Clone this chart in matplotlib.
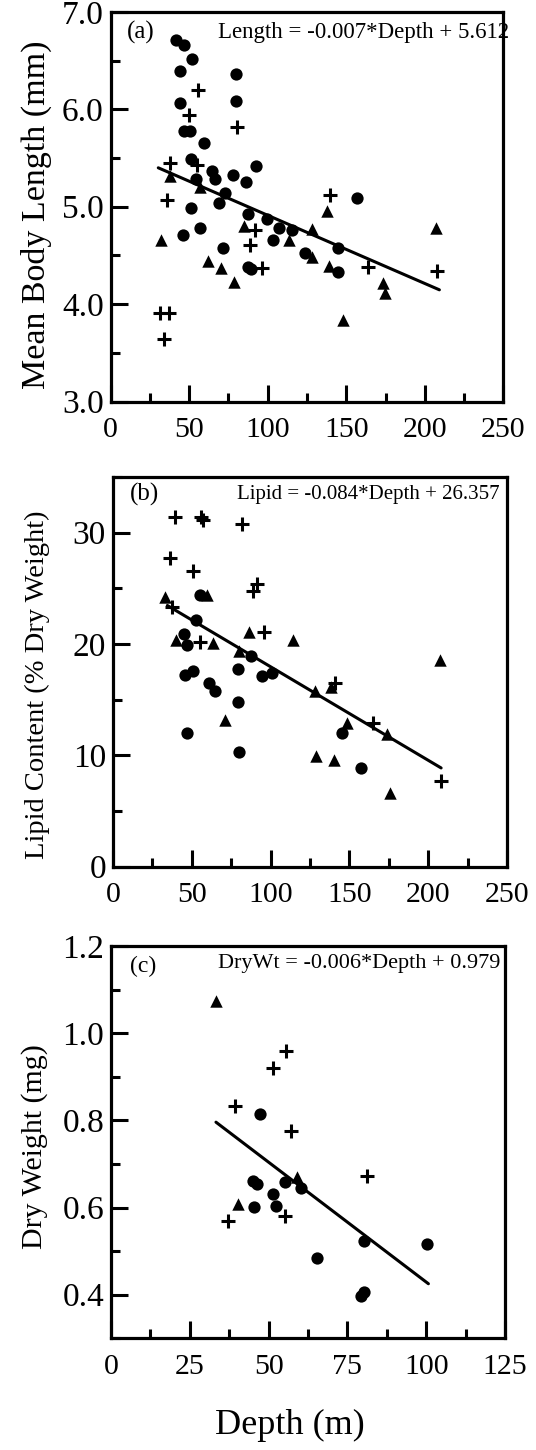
import numpy as np
import matplotlib
matplotlib.use("Agg")
import matplotlib.pyplot as plt
from matplotlib.ticker import MultipleLocator, FormatStrFormatter

plt.rcParams['font.family'] = ['Liberation Serif', 'DejaVu Serif']

# ---- panel (a): mean body length (mm) vs depth (m)
a_circ_d = [41.6, 46.9, 51.6, 44.1, 79.6, 44.1, 79.6, 46.9, 50.5, 59.4, 51.1, 54.3, 64.3, 66.4,
            78.1, 86.2, 92.5, 72.8, 69.2, 51.1, 87.3, 99.4, 107.4, 115.3, 103.2, 45.9, 56.9,
            71.7, 87.3, 89.3, 123.8, 157.1, 144.6, 145.0]
a_circ_v = [6.71, 6.66, 6.52, 6.39, 6.36, 6.07, 6.09, 5.78, 5.78, 5.65, 5.49, 5.29, 5.37, 5.29,
            5.33, 5.25, 5.42, 5.14, 5.04, 4.99, 4.93, 4.87, 4.78, 4.76, 4.66, 4.71, 4.78,
            4.58, 4.38, 4.36, 4.53, 5.09, 4.58, 4.33]
a_plus_d = [55.8, 50.1, 80.3, 37.8, 54.8, 36.1, 91.9, 88.7, 96.2, 31.4, 37.3, 33.9, 139.7, 164.1, 208.0]
a_plus_v = [6.20, 5.94, 5.82, 5.45, 5.43, 5.07, 4.76, 4.61, 4.37, 3.91, 3.91, 3.64, 5.12, 4.38, 4.34]
a_tri_d = [37.8, 56.9, 84.9, 113.8, 128.0, 32.0, 62.2, 70.3, 78.5, 128.0, 138.0, 139.2, 173.6,
           174.7, 147.8, 207.2]
a_tri_v = [5.32, 5.20, 4.80, 4.66, 4.77, 4.66, 4.44, 4.37, 4.23, 4.48, 4.96, 4.39, 4.22,
           4.11, 3.84, 4.78]
a_fit = (-0.007, 5.612, 30.3, 209.3)   # slope, intercept, depth from, depth to

# ---- panel (b): lipid content (% dry weight) vs depth
b_circ_d = [55.3, 52.7, 45.3, 46.8, 87.5, 79.6, 50.6, 45.7, 94.5, 100.8, 60.6, 64.8, 79.2,
            46.8, 80.1, 145.3, 157.6]
b_circ_v = [24.4, 22.2, 20.9, 19.9, 18.9, 17.8, 17.6, 17.2, 17.1, 17.4, 16.5, 15.8, 14.8,
            12.0, 10.3, 12.0, 8.9]
b_plus_d = [39.4, 55.9, 57.4, 81.8, 36.2, 51.0, 91.3, 88.8, 37.3, 95.5, 55.3, 141.0, 165.0, 208.2]
b_plus_v = [31.4, 31.4, 31.1, 30.8, 27.7, 26.6, 25.4, 24.8, 23.3, 21.1, 20.2, 16.5, 12.9, 7.7]
b_tri_d = [33.0, 59.5, 86.0, 114.2, 40.0, 63.3, 80.2, 71.2, 128.3, 128.8, 207.8, 138.3, 148.5,
           173.9, 140.0, 175.5]
b_tri_v = [24.2, 24.4, 21.1, 20.4, 20.4, 20.1, 19.4, 13.2, 15.8, 9.9, 18.6, 16.1, 12.9,
           11.9, 9.6, 6.6]
b_fit = (-0.084, 26.357, 34.5, 208.2)

# ---- panel (c): dry weight (mg) vs depth
c_circ_d = [47.3, 45.1, 46.4, 55.2, 60.2, 51.3, 52.3, 45.4, 80.4, 100.3, 65.3, 79.2, 80.3]
c_circ_v = [0.814, 0.662, 0.653, 0.658, 0.645, 0.630, 0.604, 0.601, 0.524, 0.517, 0.485, 0.398, 0.407]
c_plus_d = [55.5, 51.3, 39.3, 57.1, 81.3, 37.2, 55.2]
c_plus_v = [0.959, 0.919, 0.834, 0.775, 0.673, 0.568, 0.580]
c_tri_d = [33.3, 59.1, 40.4]
c_tri_v = [1.074, 0.670, 0.609]
c_fit = (-0.0055, 0.979, 33.3, 100.7)   # printed slope is rounded to -0.006

W, H = 536, 1450
fig = plt.figure(figsize=(W / 100, H / 100), dpi=100)

def px_axes(l, r, t, b):
    return fig.add_axes([l / W, 1 - b / H, (r - l) / W, (b - t) / H])

def style(ax):
    for s in ax.spines.values():
        s.set_linewidth(2.3)
    ax.tick_params(which='major', direction='in', length=12, width=2.2,
                   top=False, right=False)
    ax.tick_params(which='minor', direction='in', length=6.5, width=2.2, top=False, right=False)
    ax.tick_params(axis='x', which='major', labelsize=21.5, pad=11)
    ax.tick_params(axis='y', which='major', labelsize=24, pad=5)

def draw(ax, cd, cv, pd_, pv, td, tv, fit):
    ax.scatter(cd, cv, s=78, marker='o', c='black', linewidths=0, zorder=3)
    ax.scatter(td, tv, s=80, marker='^', c='black', linewidths=0, zorder=3)
    ax.scatter(pd_, pv, s=105, marker='+', c='black', linewidths=2.2, zorder=3)
    k, b0, x0, x1 = fit
    xs = np.array([x0, x1])
    ax.plot(xs, k * xs + b0, c='black', lw=2.2, zorder=2, solid_capstyle='round')

# (a)
ax = px_axes(110.7, 503.3, 12, 401.5)
draw(ax, a_circ_d, a_circ_v, a_plus_d, a_plus_v, a_tri_d, a_tri_v, a_fit)
ax.set_xlim(0, 250); ax.set_ylim(3.0, 7.0)
ax.xaxis.set_major_locator(MultipleLocator(50)); ax.xaxis.set_minor_locator(MultipleLocator(25))
ax.yaxis.set_major_locator(MultipleLocator(1)); ax.yaxis.set_minor_locator(MultipleLocator(0.5))
ax.yaxis.set_major_formatter(FormatStrFormatter('%.1f'))
style(ax)
ax.set_ylabel("Mean Body Length (mm)", fontsize=24.5)
ax.yaxis.set_label_coords(-0.15, 0.48)
ax.text(0.041, 0.948, "(a)", transform=ax.transAxes, fontsize=18, va='center')
ax.text(0.273, 0.948, "Length = -0.007*Depth + 5.612", transform=ax.transAxes,
        fontsize=16.5, va='center')

# (b)
ax = px_axes(113, 507, 477, 866.7)
draw(ax, b_circ_d, b_circ_v, b_plus_d, b_plus_v, b_tri_d, b_tri_v, b_fit)
ax.set_xlim(0, 250); ax.set_ylim(0, 35)
ax.xaxis.set_major_locator(MultipleLocator(50)); ax.xaxis.set_minor_locator(MultipleLocator(25))
ax.yaxis.set_major_locator(MultipleLocator(10)); ax.yaxis.set_minor_locator(MultipleLocator(5))
style(ax)
ax.set_ylabel("Lipid Content (% Dry Weight)", fontsize=20.5)
ax.yaxis.set_label_coords(-0.16, 0.466)
ax.text(0.043, 0.954, "(b)", transform=ax.transAxes, fontsize=18, va='center')
ax.text(0.314, 0.954, "Lipid = -0.084*Depth + 26.357", transform=ax.transAxes,
        fontsize=15, va='center')

# (c)
ax = px_axes(111, 505, 946, 1338.3)
draw(ax, c_circ_d, c_circ_v, c_plus_d, c_plus_v, c_tri_d, c_tri_v, c_fit)
ax.set_xlim(0, 125); ax.set_ylim(0.3, 1.2)
ax.xaxis.set_major_locator(MultipleLocator(25)); ax.xaxis.set_minor_locator(MultipleLocator(12.5))
ax.yaxis.set_major_locator(MultipleLocator(0.2)); ax.yaxis.set_minor_locator(MultipleLocator(0.1))
ax.set_yticks([0.4, 0.6, 0.8, 1.0, 1.2])
ax.yaxis.set_major_formatter(FormatStrFormatter('%.1f'))
style(ax)
ax.set_ylabel("Dry Weight (mg)", fontsize=21.5)
ax.yaxis.set_label_coords(-0.16, 0.49)
ax.text(0.048, 0.947, "(c)", transform=ax.transAxes, fontsize=17, va='center')
ax.text(0.271, 0.956, "DryWt = -0.006*Depth + 0.979", transform=ax.transAxes,
        fontsize=16, va='center')

fig.text(290 / W, 1 - 1425 / H, "Depth (m)", fontsize=26, ha='center', va='center')

fig.savefig("out.png", dpi=100)
